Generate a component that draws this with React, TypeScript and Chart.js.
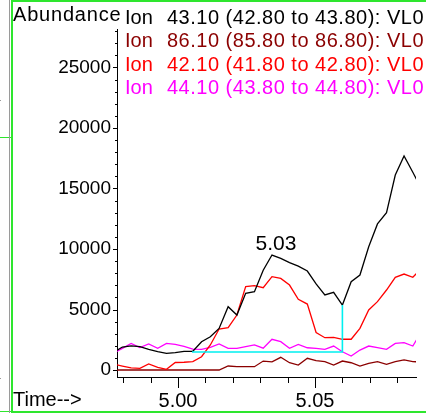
import React, { useEffect, useRef } from 'react';
import { Chart, registerables } from 'chart.js';

Chart.register(...registerables);

// Scan times (min)
const scanTimes = [
  4.9765, 4.9797, 4.9829, 4.9861, 4.9893, 4.9926, 4.9958, 4.999, 5.0022, 5.0054,
  5.0086, 5.0118, 5.015, 5.0183, 5.0215, 5.0247, 5.0279, 5.0311, 5.0343, 5.0375,
  5.0407, 5.0439, 5.0472, 5.0504, 5.0536, 5.0568, 5.06, 5.0632, 5.0664, 5.0696,
  5.0728, 5.0761, 5.0793, 5.0825, 5.0857, 5.0889,
];

// Ion 43.10
const ion43 = [
  1450, 1900, 2000, 1930, 1710, 1510, 1380, 1430, 1545, 1545,
  2340, 2750, 3440, 5230, 4545, 6340, 6470, 8250, 9500, 9230,
  8870, 8590, 8180, 7110, 6200, 6420, 5370, 7300, 7850, 10190,
  12070, 13000, 16110, 17690, 16340, 14950,
];

// Ion 86.10
const ion86 = [
  0, 0, 0, 0, 0, 0, 0, 0, 0, 0,
  0, 0, 0, 330, 275, 275, 275, 740, 680, 1050,
  600, 410, 970, 770, 690, 410, 740, 600, 330, 550,
  690, 470, 690, 830, 700, 650,
];

// Ion 42.10
const ion42 = [
  480, 330, 180, 140, 500, 220, 60, 620, 640, 700,
  1100, 2070, 3390, 3500, 4545, 6890, 6970, 6800, 7710, 7570,
  7020, 5840, 5450, 3100, 2670, 2700, 2540, 2540, 3440, 4960,
  5650, 6610, 7660, 7930, 7660, 8410,
];

// Ion 44.10
const ion44 = [
  1400, 1790, 2200, 1850, 2150, 1800, 2200, 2120, 1950, 1720,
  1710, 1870, 2150, 1790, 1790, 1930, 2070, 1800, 2540, 2340,
  1790, 2120, 1840, 1780, 1710, 1980, 1510, 1160, 1650, 1980,
  1850, 1710, 2200, 2260, 1980, 3200,
];

// Integration baseline (cyan)
const baselineTimes = [5.0051, 5.06, 5.06];
const baselineValues = [1490, 1490, 5370];

const peakIndex = 18;

// Axis ticks
const xTickValues = [4.98, 4.99, 5.0, 5.01, 5.02, 5.03, 5.04, 5.05, 5.06, 5.07, 5.08];
const xMajorLabels = ['5.00', '5.05'];
const yTickStep = 1000;
const yTickCount = 29; // 0 .. 28000
const yMajorLabels = ['0', '5000', '10000', '15000', '20000', '25000'];

const legendLabels = [
  'Ion  43.10 (42.80 to 43.80): VL0',
  'Ion  86.10 (85.80 to 86.80): VL0',
  'Ion  42.10 (41.80 to 42.80): VL0',
  'Ion  44.10 (43.80 to 44.80): VL0',
];
const seriesColors = ['#000000', '#8b0000', '#ff0000', '#ff00ff'];
const baselineColor = '#00f0f0';
const frameColor = '#2ee62e';

const FONT = '"Liberation Sans", Arial, sans-serif';

const toPoints = (xs: number[], ys: number[]) => xs.map((x, i) => ({ x, y: ys[i] }));

const overlayPlugin = {
  id: 'overlay',
  afterDraw(chart: any) {
    const ctx = chart.ctx as CanvasRenderingContext2D;
    const xs = chart.scales.x;
    const ys = chart.scales.y;
    ctx.save();
    // tick marks
    ctx.strokeStyle = '#000';
    ctx.lineWidth = 1;
    ctx.beginPath();
    xs.ticks.forEach((t: any) => {
      const lab = Number(t.value).toFixed(2);
      const major = xMajorLabels.includes(lab);
      const px = Math.round(xs.getPixelForValue(t.value)) + 0.5;
      ctx.moveTo(px, xs.top);
      ctx.lineTo(px, xs.top + (major ? 11 : 6));
    });
    ys.ticks.forEach((t: any) => {
      const major = yMajorLabels.includes(String(Math.round(t.value)));
      const py = Math.round(ys.getPixelForValue(t.value)) + 0.5;
      ctx.moveTo(ys.right, py);
      ctx.lineTo(ys.right - (major ? 4 : 2), py);
    });
    ctx.stroke();

    // texts
    ctx.textBaseline = 'alphabetic';
    ctx.textAlign = 'left';
    ctx.fillStyle = '#000';
    ctx.font = `20px ${FONT}`;
    (ctx as any).letterSpacing = '0.8px';
    ctx.fillText('Abundance', 13, 21);
    (ctx as any).letterSpacing = '0px';
    ctx.fillText('Time-->', 13, 406);

    const baselines = [24, 47.3, 70.6, 94];
    legendLabels.forEach((lab, i) => {
      const sp = lab.indexOf(' ');
      const head = lab.slice(0, sp);
      const rest = lab.slice(sp).trim();
      ctx.fillStyle = seriesColors[i];
      ctx.font = `20px ${FONT}`;
      (ctx as any).letterSpacing = '0px';
      ctx.fillText(head, 125, baselines[i]);
      (ctx as any).letterSpacing = '0.5px';
      ctx.fillText(rest, 167, baselines[i]);
    });
    (ctx as any).letterSpacing = '0px';

    // peak label
    const px = xs.getPixelForValue(scanTimes[peakIndex]);
    const py = ys.getPixelForValue(ion43[peakIndex]);
    ctx.fillStyle = '#000';
    ctx.font = `21px ${FONT}`;
    ctx.textAlign = 'center';
    ctx.fillText(scanTimes[peakIndex].toFixed(2), px + 4, py - 5);

    // frame
    ctx.fillStyle = frameColor;
    ctx.fillRect(11, 0, 2, 413);
    ctx.fillRect(11, 0, 415, 2);
    ctx.fillRect(11, 411, 415, 2);
    ctx.fillRect(0, 137, 11, 1);
    ctx.fillRect(0, 411, 11, 1);
    ctx.fillStyle = '#9a9a9a';
    ctx.fillRect(9, 0, 1, 413);
    ctx.fillRect(0, 100, 1, 1);
    ctx.fillRect(0, 378, 1, 1);
    ctx.restore();
  },
};

export default function App() {
  const canvasRef = useRef<HTMLCanvasElement | null>(null);

  useEffect(() => {
    if (!canvasRef.current) return;
    const lineDs = (label: string, ys: number[], color: string) => ({
      label,
      data: toPoints(scanTimes, ys),
      borderColor: color,
      backgroundColor: color,
      borderWidth: 1.3,
      pointRadius: 0,
      tension: 0,
      fill: false,
    });
    const chart = new Chart(canvasRef.current, {
      type: 'line',
      data: {
        datasets: [
          {
            label: 'baseline',
            data: toPoints(baselineTimes, baselineValues),
            borderColor: baselineColor,
            backgroundColor: baselineColor,
            borderWidth: 1.6,
            pointRadius: 0,
            tension: 0,
            fill: false,
          },
          lineDs(legendLabels[0], ion43, seriesColors[0]),
          lineDs(legendLabels[2], ion42, seriesColors[2]),
          lineDs(legendLabels[3], ion44, seriesColors[3]),
          lineDs(legendLabels[1], ion86, seriesColors[1]),
        ],
      },
      options: {
        responsive: false,
        animation: false,
        events: [],
        layout: { padding: { left: 0, top: 29, right: 10, bottom: 0 } },
        plugins: { legend: { display: false }, tooltip: { enabled: false } },
        scales: {
          x: {
            type: 'linear',
            min: 4.97774,
            max: 5.08686,
            grid: { display: false, drawTicks: false, tickLength: 0 },
            border: { display: true, color: '#000', width: 1 },
            afterFit: (s: any) => { s.height = 38; },
            afterBuildTicks: (s: any) => { s.ticks = xTickValues.map((v) => ({ value: v })); },
            ticks: {
              autoSkip: false,
              maxRotation: 0,
              minRotation: 0,
              padding: 12,
              color: '#000',
              font: { family: FONT, size: 20 },
              callback: (v: any) => {
                const s = Number(v).toFixed(2);
                return xMajorLabels.includes(s) ? s : '';
              },
            },
          },
          y: {
            type: 'linear',
            min: -578,
            max: 28180,
            grid: { display: false, drawTicks: false, tickLength: 0 },
            border: { display: true, color: '#000', width: 1 },
            afterFit: (s: any) => { s.width = 117; },
            afterBuildTicks: (s: any) => {
              s.ticks = Array.from({ length: yTickCount }, (_, i) => ({ value: i * yTickStep }));
            },
            ticks: {
              autoSkip: false,
              padding: 6,
              color: '#000',
              font: { family: FONT, size: 19 },
              callback: (v: any) => {
                const s = String(Math.round(Number(v)));
                return yMajorLabels.includes(s) ? s : '';
              },
            },
          },
        },
      },
      plugins: [overlayPlugin],
    } as any);
    return () => chart.destroy();
  }, []);

  return (
    <div style={{ position: 'fixed', left: 0, top: 0, width: 426, height: 415, background: '#fff' }}>
      <canvas ref={canvasRef} width={426} height={415} style={{ display: 'block' }} />
    </div>
  );
}
